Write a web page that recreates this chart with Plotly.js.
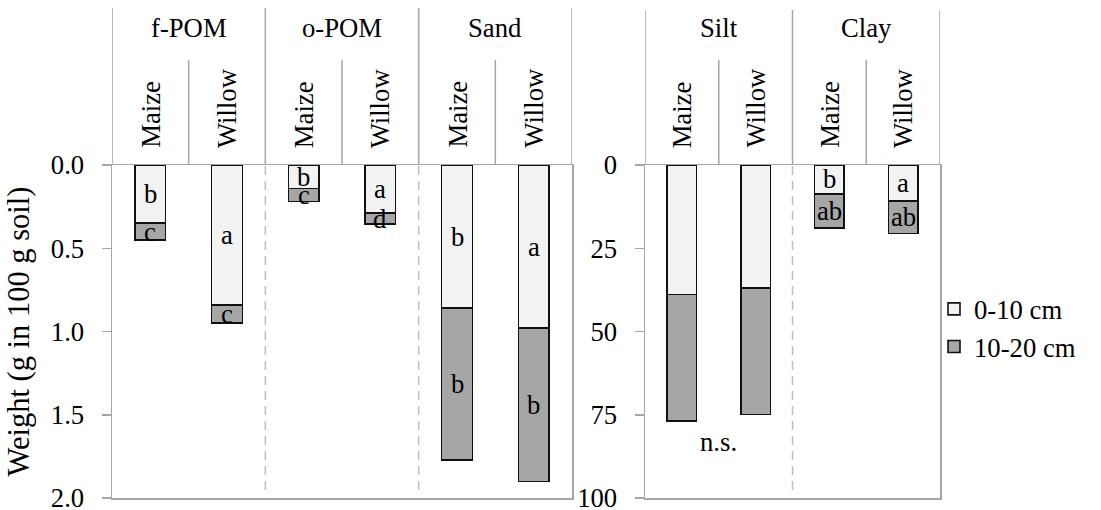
<!DOCTYPE html>
<html>
<head>
<meta charset="utf-8">
<script src="https://cdn.plot.ly/plotly-3.0.1.min.js"></script>
<style>html,body{margin:0;padding:0;background:#fff}</style>
</head>
<body>
<div id="chart" style="width:1101px;height:510px"></div>
<script>
// ---------- data ----------
const leftGroups = ["f-POM", "o-POM", "Sand"];
const rightGroups = ["Silt", "Clay"];
const crops = ["Maize", "Willow"];
const depthNames = ["0-10 cm", "10-20 cm"];

// Weight (g in 100 g soil), order: group x crop
const leftTop = [0.35, 0.84, 0.14, 0.29, 0.86, 0.98];   // 0-10 cm
const leftSub = [0.10, 0.11, 0.08, 0.065, 0.91, 0.92];  // 10-20 cm
const rightTop = [38.9, 37.0, 8.7, 10.8];               // 0-10 cm
const rightSub = [37.9, 37.9, 10.3, 9.8];               // 10-20 cm

const leftTopLetters = ["b", "a", "b", "a", "b", "a"];
const leftSubLetters = ["c", "c", "c", "d", "b", "b"];
const rightTopLetters = ["", "", "b", "a"];
const rightSubLetters = ["", "", "ab", "ab"];
const rightGroupNotes = ["n.s.", ""];

const leftTickVals = [0, 0.5, 1.0, 1.5, 2.0];
const leftTickText = ["0.0", "0.5", "1.0", "1.5", "2.0"];
const rightTickVals = [0, 25, 50, 75, 100];
const rightTickText = ["0", "25", "50", "75", "100"];

// ---------- styling ----------
const W = 1101, H = 510;
const FONT = "Liberation Serif";
const FS = 26.7;
const AXIS_COLOR = "#a6a6a6";
const LIGHT = "#f2f2f2", DARK = "#a6a6a6";
const py = p => 1 - p / H;
const px = p => p / W;

const leftCats = leftGroups.flatMap(g => crops.map(c => g + " " + c));
const rightCats = rightGroups.flatMap(g => crops.map(c => g + " " + c));

function barTrace(x, y, name, color, xa, ya, showLeg, lg) {
  return {
    type: "bar", x: x, y: y, name: name, xaxis: xa, yaxis: ya,
    width: 0.4, showlegend: showLeg, legendgroup: lg,
    marker: {color: color, line: {color: "#111", width: 1.6}},
    hoverinfo: "x+y"
  };
}

const data = [
  barTrace(leftCats, leftTop, depthNames[0], LIGHT, "x", "y", true, "d1"),
  barTrace(leftCats, leftSub, depthNames[1], DARK, "x", "y", true, "d2"),
  barTrace(rightCats, rightTop, depthNames[0], LIGHT, "x2", "y2", false, "d1"),
  barTrace(rightCats, rightSub, depthNames[1], DARK, "x2", "y2", false, "d2")
];

const shapes = [];
const annotations = [];

function panelDecor(groups, xref, topPx) {
  for (let g = 0; g <= groups.length; g++) {
    shapes.push({type: "line", xref: xref, yref: "paper", x0: 2 * g - 0.5, x1: 2 * g - 0.5,
      y0: py(topPx), y1: py(165), line: {color: AXIS_COLOR, width: 1.5}});
  }
  for (let g = 0; g < groups.length; g++) {
    shapes.push({type: "line", xref: xref, yref: "paper", x0: 2 * g + 0.5, x1: 2 * g + 0.5,
      y0: py(60), y1: py(165), line: {color: AXIS_COLOR, width: 1.5}});
  }
  for (let g = 1; g < groups.length; g++) {
    shapes.push({type: "line", xref: xref, yref: "paper", x0: 2 * g - 0.5, x1: 2 * g - 0.5,
      y0: py(166), y1: py(493), line: {color: "#bfbfbf", width: 1.5, dash: "9px,6px"}});
  }
  groups.forEach((g, gi) => {
    annotations.push({xref: xref, yref: "paper", x: 2 * gi + 0.5, y: py(28), text: g,
      showarrow: false, yanchor: "middle", font: {family: FONT, size: FS, color: "#000"}});
    crops.forEach((c, ci) => {
      annotations.push({xref: xref, yref: "paper", x: 2 * gi + ci, y: py(150), text: c,
        textangle: -90, showarrow: false, yanchor: "bottom", xanchor: "center",
        font: {family: FONT, size: FS, color: "#000"}});
    });
  });
}
panelDecor(leftGroups, "x", 8);
panelDecor(rightGroups, "x2", 10);

function letters(top, sub, topL, subL, xref, yref) {
  top.forEach((v, i) => {
    if (topL[i]) annotations.push({xref: xref, yref: yref, x: i, y: v / 2, text: topL[i],
      showarrow: false, font: {family: FONT, size: FS, color: "#000"}});
    if (subL[i]) annotations.push({xref: xref, yref: yref, x: i, y: v + sub[i] / 2, text: subL[i],
      showarrow: false, font: {family: FONT, size: FS, color: "#000"}});
  });
}
letters(leftTop, leftSub, leftTopLetters, leftSubLetters, "x", "y");
letters(rightTop, rightSub, rightTopLetters, rightSubLetters, "x2", "y2");

rightGroupNotes.forEach((n, gi) => {
  if (!n) return;
  const tot = Math.max(rightTop[2 * gi] + rightSub[2 * gi], rightTop[2 * gi + 1] + rightSub[2 * gi + 1]);
  annotations.push({xref: "x2", yref: "y2", x: 2 * gi + 0.5, y: tot + 6.5, text: n,
    showarrow: false, font: {family: FONT, size: FS, color: "#000"}});
});

const yDomain = [py(498), py(165)];
const xaxisCommon = {
  type: "category", showticklabels: false, ticks: "", showgrid: false, zeroline: false,
  showline: true, mirror: true, linecolor: AXIS_COLOR, linewidth: 1.5, fixedrange: true
};
const yaxisCommon = {
  autorange: false, showgrid: false, zeroline: false, showline: true, mirror: true,
  linecolor: AXIS_COLOR, linewidth: 1.5, ticks: "outside", ticklen: 9, tickwidth: 1.5,
  tickcolor: AXIS_COLOR, tickfont: {family: FONT, size: FS, color: "#000"},
  ticklabelstandoff: 12, ticklabeloverflow: "allow", domain: yDomain, fixedrange: true
};

const layout = {
  width: W, height: H,
  margin: {l: 0, r: 0, t: 0, b: 0},
  paper_bgcolor: "#fff", plot_bgcolor: "#fff",
  font: {family: FONT, size: FS, color: "#000"},
  barmode: "stack",
  xaxis: Object.assign({}, xaxisCommon, {domain: [px(112), px(572)], range: [-0.5, 5.5], anchor: "y"}),
  yaxis: Object.assign({}, yaxisCommon, {range: [2, 0], tickvals: leftTickVals, ticktext: leftTickText,
    anchor: "x", title: {text: "Weight (g in 100 g soil)", font: {family: FONT, size: 30.5, color: "#000"}, standoff: 12}}),
  xaxis2: Object.assign({}, xaxisCommon, {domain: [px(645), px(940)], range: [-0.5, 3.5], anchor: "y2"}),
  yaxis2: Object.assign({}, yaxisCommon, {range: [100, 0], tickvals: rightTickVals, ticktext: rightTickText,
    anchor: "x2"}),
  showlegend: true,
  legend: {x: px(934), y: py(328), xanchor: "left", yanchor: "middle", bgcolor: "rgba(0,0,0,0)",
    font: {family: FONT, size: FS, color: "#000"}, tracegroupgap: 4, traceorder: "normal"},
  shapes: shapes,
  annotations: annotations
};

Plotly.newPlot("chart", data, layout, {displayModeBar: false, staticPlot: true});
</script>
</body>
</html>
